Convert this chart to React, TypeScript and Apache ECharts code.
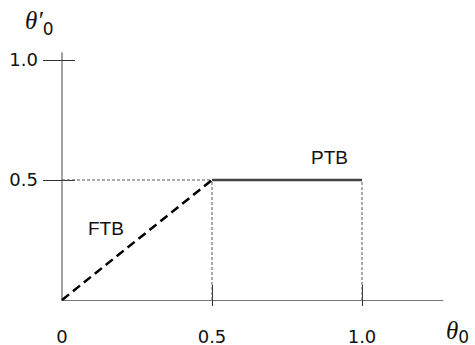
import React, { useEffect, useRef } from "react";
import * as echarts from "echarts";

const xTickValues = [0.5, 1.0];
const xLabelValues = [0, 0.5, 1.0];
const yTickValues = [0.5, 1.0];
const yLabelValues = [0.5, 1.0];
const tickText: Record<string, string> = { "0": "0", "0.5": "0.5", "1": "1.0" };

const ftbX = [0, 0.5];
const ftbY = [0, 0.5];
const ptbX = [0.5, 1.0];
const ptbY = [0.5, 0.5];
const guideLevel = 0.5;
const guideXs = [0.5, 1.0];

const seriesLabels = ["FTB", "PTB"];
const xTitle = "θ";
const yTitle = "θ′";
const subscript = "0";

export default function App() {
  const ref = useRef<HTMLDivElement>(null);
  useEffect(() => {
    document.body.style.margin = "0";
    const chart = echarts.init(ref.current!, null, { renderer: "svg" });
    const zip = (xs: number[], ys: number[]) => xs.map((x, i) => [x, ys[i]]);
    const guideStyle = { color: "#555", width: 1, type: [3, 2] as any };
    const font = "DejaVu Sans";
    const titleRich = {
      t: { fontFamily: "Liberation Serif", fontStyle: "italic", fontSize: 25, fill: "#111" },
      s: { fontFamily: font, fontSize: 17, fill: "#111", padding: [16, 0, 0, 0] },
    };
    const xTitleRich = {
      t: { fontFamily: "Liberation Serif", fontStyle: "italic", fontSize: 25, fill: "#111" },
      s: { fontFamily: font, fontSize: 17, fill: "#111", padding: [12, 0, 0, 0] },
    };
    chart.setOption({
      animation: false,
      backgroundColor: "#fff",
      grid: { left: 62, top: 53, width: 381, height: 247, containLabel: false },
      xAxis: [
        {
          type: "value", min: 0, max: 1.27, splitLine: { show: false },
          axisLine: { show: true, onZero: false, lineStyle: { color: "#777", width: 1.2 } },
          axisTick: { show: true, inside: true, length: 15, customValues: xTickValues, lineStyle: { color: "#333", width: 1 } },
          axisLabel: { show: false },
        },
        {
          type: "value", min: 0, max: 1.27, position: "bottom", gridIndex: 0, splitLine: { show: false },
          axisLine: { show: false, onZero: false },
          axisTick: { show: true, inside: false, length: 6, customValues: xTickValues, lineStyle: { color: "#333", width: 1 } },
          axisLabel: {
            show: true, customValues: xLabelValues, margin: 27, fontFamily: font, fontSize: 18, color: "#111",
            formatter: (v: number) => tickText[String(v)] ?? String(v),
          },
        },
      ],
      yAxis: [
        {
          type: "value", min: 0, max: 1.029, splitLine: { show: false },
          axisLine: { show: true, onZero: false, lineStyle: { color: "#999", width: 1.8 } },
          axisTick: { show: true, inside: false, length: 19, customValues: yTickValues, lineStyle: { color: "#333", width: 1 } },
          axisLabel: {
            show: true, customValues: yLabelValues, margin: 24, fontFamily: font, fontSize: 18, color: "#111",
            formatter: (v: number) => tickText[String(v)] ?? String(v),
          },
        },
        {
          type: "value", min: 0, max: 1.029, position: "left", splitLine: { show: false },
          axisLine: { show: false, onZero: false },
          axisTick: { show: true, inside: true, length: 13, customValues: yTickValues, lineStyle: { color: "#333", width: 1 } },
          axisLabel: { show: false },
        },
      ],
      series: [
        { type: "line", symbol: "none", silent: true, z: 1, data: [[0, guideLevel], [guideXs[0], guideLevel]], lineStyle: guideStyle },
        ...guideXs.map((gx) => ({
          type: "line", symbol: "none", silent: true, z: 1, data: [[gx, 0], [gx, guideLevel]], lineStyle: guideStyle,
        })),
        { type: "line", symbol: "none", z: 3, data: zip(ftbX, ftbY), lineStyle: { color: "#000", width: 2.5, type: [9, 5] } },
        { type: "line", symbol: "none", z: 3, data: zip(ptbX, ptbY), lineStyle: { color: "#444", width: 2.5 } },
      ],
      graphic: [
        { type: "text", left: 88, top: 219, style: { text: seriesLabels[0], font: "19px 'Liberation Sans'", fill: "#111" } },
        { type: "text", left: 311, top: 148, style: { text: seriesLabels[1], font: "19px 'Liberation Sans'", fill: "#111" } },
        { type: "text", left: 25, top: 8, style: { text: `{t|${yTitle}}{s|${subscript}}`, rich: titleRich } },
        { type: "text", left: 446, top: 318, style: { text: `{t|${xTitle}}{s|${subscript}}`, rich: xTitleRich } },
      ],
    });
    return () => chart.dispose();
  }, []);
  return <div ref={ref} style={{ width: 475, height: 345 }} />;
}
